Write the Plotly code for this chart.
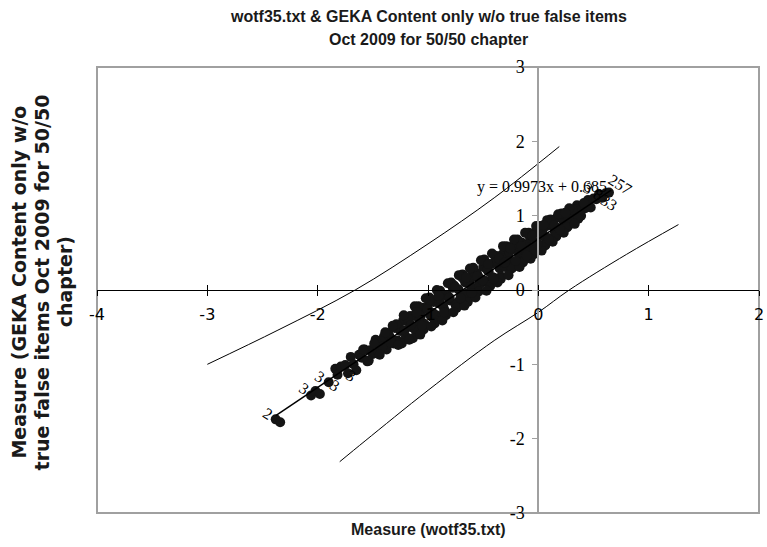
import plotly.graph_objects as go

# ---- axis ticks ----
x_ticks = [-4, -3, -2, -1, 0, 1, 2]
x_tick_text = ["-4", "-3", "-2", "-1", "0", "1", "2"]
y_ticks = [-3, -2, -1, 0, 1, 2, 3]
y_tick_text = ["-3", "-2", "-1", "0", "1", "2", "3"]

# ---- item measures: x = wotf35.txt, y = GEKA content only ----
item_x = [
    -2.38, -2.34, -2.06, -2.02, -1.98, -1.90, -1.84, -1.82, -1.79,
    -1.750, -1.725, -1.700, -1.675, -1.650, -1.625, -1.600, -1.575, -1.550, -1.525,
    -1.500, -1.475, -1.450, -1.425, -1.400, -1.375, -1.350, -1.325, -1.300, -1.275,
    -1.250, -1.225, -1.200, -1.175, -1.150, -1.125, -1.100, -1.075, -1.050, -1.025,
    -1.000, -0.975, -0.950, -0.925, -0.900, -0.875, -0.850, -0.825, -0.800, -0.775,
    -0.750, -0.725, -0.700, -0.675, -0.650, -0.625, -0.600, -0.575, -0.550, -0.525,
    -0.500, -0.475, -0.450, -0.425, -0.400, -0.375, -0.350, -0.325, -0.300, -0.275,
    -0.250, -0.225, -0.200, -0.175, -0.150, -0.125, -0.100, -0.075, -0.050, -0.025,
    0.000, 0.025, 0.050, 0.075, 0.100, 0.125, 0.150, 0.175, 0.200, 0.225,
    0.250, 0.275, 0.300, 0.325, 0.350, 0.375, 0.400, 0.425, 0.450, 0.475,
    0.500, 0.525, 0.550,
    -1.4125, -1.3625, -1.3125, -1.2625, -1.2125, -1.1625, -1.1125, -1.0625, -1.0125,
    -0.9625, -0.9125, -0.8625, -0.8125, -0.7625, -0.7125, -0.6625, -0.6125, -0.5625,
    -0.5125, -0.4625, -0.4125, -0.3625, -0.3125, -0.2625, -0.2125, -0.1625, -0.1125,
    -0.0625, -0.0125, 0.0375, 0.0875, 0.1375, 0.1875, 0.2375, 0.2875, 0.3375, 0.3875,
    -1.5875, -1.5375, -1.4875, -1.4375, -1.3875, -1.3375, -1.2875, -1.2375, -1.1875,
    -1.1375, -1.0875, -1.0375, -0.9875, -0.9375, -0.8875, -0.8375, -0.7875, -0.7375,
    -0.6875, -0.6375, -0.5875, -0.5375, -0.4875, -0.4375, -0.3875, -0.3375, -0.2875,
    -0.2375, -0.1875, -0.1375, -0.0875, -0.0375, 0.0125, 0.0625, 0.1125, 0.1625,
    0.2125, 0.2625, 0.3125, 0.3625, 0.4125,
    -1.04, -0.99, -0.94, -0.89, -0.84, -0.79, -0.74, -0.69, -0.64, -0.59,
    -0.54, -0.49, -0.44, -0.39, -0.34, -0.29, -0.24, -0.19, -0.14, -0.09,
    -0.04, 0.01, 0.06, 0.11, 0.16, 0.21, 0.26,
    -1.32, -1.27, -1.22, -1.17, -1.12, -1.07, -1.02, -0.97, -0.92, -0.87,
    -0.82, -0.77, -0.72, -0.67, -0.62, -0.57, -0.52, -0.47, -0.42, -0.37,
    -0.32, -0.27, -0.22, -0.17, -0.12, -0.07, -0.02, 0.03, 0.08, 0.13,
    0.18, 0.23, 0.28, 0.33,
    -1.155, -1.105, -1.055, -1.005, -0.955, -0.905, -0.855, -0.805, -0.755, -0.705,
    -0.655, -0.605, -0.555, -0.505, -0.455, -0.405, -0.355, -0.305, -0.255, -0.205,
    -0.155, -0.105, -0.055, -0.005, 0.045, 0.095, 0.145, 0.195, 0.245,
    0.58, 0.61, 0.64,
]
item_y = [
    -1.74, -1.78, -1.42, -1.36, -1.40, -1.24, -1.06, -1.14, -1.03,
    -1.01, -1.12, -0.90, -1.00, -1.08, -0.87, -0.91, -0.80, -0.96, -0.81,
    -0.86, -0.67, -0.83, -0.72, -0.63, -0.80, -0.62, -0.67, -0.51, -0.68,
    -0.55, -0.41, -0.63, -0.43, -0.50, -0.35, -0.49, -0.39, -0.24, -0.47,
    -0.26, -0.35, -0.16, -0.34, -0.18, -0.05, -0.27, -0.07, -0.14, 0.03,
    -0.20, 0.01, -0.07, 0.15, -0.05, 0.09, 0.18, -0.01, 0.20, 0.15,
    0.31, 0.12, 0.25, 0.35, 0.16, 0.37, 0.29, 0.48, 0.31, 0.45,
    0.58, 0.36, 0.55, 0.48, 0.64, 0.45, 0.61, 0.70, 0.57, 0.79,
    0.59, 0.76, 0.72, 0.86, 0.68, 0.87, 0.78, 0.98, 0.80, 0.94,
    1.02, 0.87, 1.05, 0.98, 1.14, 1.00, 1.12, 1.10, 1.21, 1.11,
    1.23, 1.22, 1.29,
    -0.76, -0.58, -0.72, -0.51, -0.54, -0.35, -0.54, -0.34, -0.24,
    -0.36, -0.11, -0.22, -0.10, 0.06, -0.14, 0.10, 0.05, 0.23,
    0.10, 0.27, 0.17, 0.45, 0.37, 0.51, 0.35, 0.58, 0.52,
    0.73, 0.64, 0.80, 0.70, 0.86, 0.83, 1.02, 0.95, 1.09, 1.00,
    -0.80, -0.95, -0.72, -0.87, -0.57, -0.71, -0.46, -0.72, -0.38,
    -0.65, -0.22, -0.45, -0.10, -0.41, -0.11, -0.34, 0.07, -0.18,
    0.21, -0.13, 0.25, 0.07, 0.39, 0.05, 0.43, 0.18, 0.58,
    0.31, 0.60, 0.39, 0.77, 0.53, 0.84, 0.60, 0.89, 0.72,
    1.02, 0.85, 1.08, 0.96, 1.17,
    -0.53, -0.14, -0.45, -0.01, -0.30, 0.10, -0.24, 0.17, -0.16, 0.30,
    -0.02, 0.41, 0.06, 0.46, 0.15, 0.59, 0.29, 0.68, 0.37, 0.75,
    0.48, 0.86, 0.61, 0.95, 0.73, 1.03, 0.84,
    -0.48, -0.74, -0.34, -0.67, -0.22, -0.60, -0.11, -0.49, 0.00, -0.41,
    0.09, -0.30, 0.20, -0.21, 0.29, -0.10, 0.40, -0.01, 0.49, 0.10,
    0.59, 0.20, 0.68, 0.31, 0.77, 0.42, 0.86, 0.53, 0.94, 0.65,
    1.02, 0.77, 1.10, 0.89,
    -0.47, -0.30, -0.48, -0.26, -0.31, -0.08, -0.30, -0.10, 0.04, -0.11,
    0.17, -0.04, 0.18, 0.13, 0.35, 0.15, 0.42, 0.37, 0.56, 0.39,
    0.59, 0.46, 0.73, 0.62, 0.87, 0.68, 0.87, 0.81, 1.04,
    1.24, 1.30, 1.31,
]

# ---- item-number labels visible at the ends of the band ----
label_text = ["2", "3", "3", "3", "3", "257", "3 8", "33"]
label_x = [-2.38, -2.06, -1.90, -1.98, -1.79, 0.64, 0.58, 0.61]
label_y = [-1.74, -1.42, -1.24, -1.40, -1.03, 1.31, 1.24, 1.30]
label_shift = [(-8, 6), (-7, 7), (-9, 6), (15, 9), (10, -9), (11, 8), (-9, 6), (3, -9)]

# ---- fitted line ----
trend_slope = 0.9973
trend_intercept = 0.685
trend_x = [-2.38, 0.66]

# ---- 95% confidence bands ----
upper_x = [-3.00, -2.36, -1.66, -1.00, -0.40, 0.19]
upper_y = [-1.00, -0.54, 0.00, 0.62, 1.24, 1.93]
lower_x = [-1.80, -1.57, -1.00, -0.40, 0.00, 0.28, 0.80, 1.27]
lower_y = [-2.31, -2.03, -1.35, -0.68, -0.30, 0.00, 0.48, 0.88]

SANS = "Liberation Sans"
SERIF = "Liberation Serif"
TEXT = "#1a1a1a"

fig = go.Figure()

fig.add_trace(go.Scatter(x=upper_x, y=upper_y, mode="lines",
                         line=dict(color="black", width=1, shape="spline"),
                         hoverinfo="skip"))
fig.add_trace(go.Scatter(x=lower_x, y=lower_y, mode="lines",
                         line=dict(color="black", width=1, shape="spline"),
                         hoverinfo="skip"))
fig.add_trace(go.Scatter(x=item_x, y=item_y, mode="markers",
                         marker=dict(color="#141414", size=10, line=dict(width=0))))
fig.add_trace(go.Scatter(x=trend_x,
                         y=[trend_slope * v + trend_intercept for v in trend_x],
                         mode="lines", line=dict(color="black", width=1.5),
                         hoverinfo="skip"))
# invisible trace that carries the secondary (inside-tick) x axis
fig.add_trace(go.Scatter(x=[-4, 2], y=[0, 0], xaxis="x2", mode="none",
                         hoverinfo="skip"))

for t, px, py, (dx, dy) in zip(label_text, label_x, label_y, label_shift):
    fig.add_annotation(x=px, y=py, text=t, showarrow=False, xshift=dx, yshift=dy,
                       textangle=32, font=dict(family=SERIF, size=16, color="black"))

fig.add_annotation(x=0.03, y=1.39, showarrow=False,
                   text=f"y = {trend_slope}x + {trend_intercept}",
                   font=dict(family=SERIF, size=16, color="black"))

# chart title, two lines
title_lines = ["wotf35.txt & GEKA Content only w/o true false items",
               "Oct 2009 for 50/50 chapter"]
for line, ypx in zip(title_lines, [17, 40]):
    fig.add_annotation(xref="paper", yref="paper", x=0.5, y=(513 - ypx) / 446,
                       xanchor="center", yanchor="middle", showarrow=False,
                       text=f"<b>{line}</b>",
                       font=dict(family=SANS, size=16, color=TEXT))

# axis titles
fig.add_annotation(xref="paper", yref="paper", x=0.5, y=-0.038, yanchor="middle",
                   showarrow=False, text="<b>Measure (wotf35.txt)</b>",
                   font=dict(family=SANS, size=16, color=TEXT))
y_title_lines = ["Measure (GEKA Content only w/o",
                 "true false items Oct 2009 for 50/50",
                 "chapter)"]
for line, xpx in zip(y_title_lines, [18, 42, 65]):
    fig.add_annotation(xref="paper", yref="paper", x=(xpx - 97) / 667,
                       y=(513 - 282) / 446, xanchor="center", yanchor="middle",
                       textangle=-90, showarrow=False, text=f"<b>{line}</b>",
                       font=dict(family="DejaVu Sans", size=19, color=TEXT))

# plot-area frame
fig.add_shape(type="rect", xref="paper", yref="paper", x0=0, x1=1, y0=0, y1=1,
              line=dict(color="#a0a0a0", width=2), layer="below")

fig.update_layout(
    width=767, height=547,
    margin=dict(l=97, r=3, t=67, b=34),
    paper_bgcolor="white", plot_bgcolor="white",
    showlegend=False,
    xaxis=dict(range=[-4, 2], tickvals=x_ticks, ticktext=x_tick_text,
               anchor="free", position=0.5,
               showline=True, linecolor="black", linewidth=1,
               ticks="outside", ticklen=5, tickcolor="black", tickwidth=1,
               tickfont=dict(family="DejaVu Sans", size=16, color="black"),
               ticklabelstandoff=5, ticklabeloverflow="allow",
               showgrid=False, zeroline=False, fixedrange=True),
    xaxis2=dict(range=[-4, 2], tickvals=x_ticks, overlaying="x", anchor="free",
                position=0.5, showline=False, ticks="inside", ticklen=5,
                tickcolor="black", tickwidth=1, showticklabels=False,
                showgrid=False, zeroline=False),
    yaxis=dict(range=[-3, 3], tickvals=y_ticks, ticktext=y_tick_text,
               anchor="free", position=4 / 6,
               showline=True, linecolor="#a0a0a0", linewidth=2,
               ticks="outside", ticklen=5, tickcolor="#a0a0a0", tickwidth=1,
               tickfont=dict(family=SERIF, size=18, color="black"),
               ticklabelstandoff=4, ticklabeloverflow="allow",
               showgrid=False, zeroline=False, fixedrange=True),
)

fig.write_html("out.html")
